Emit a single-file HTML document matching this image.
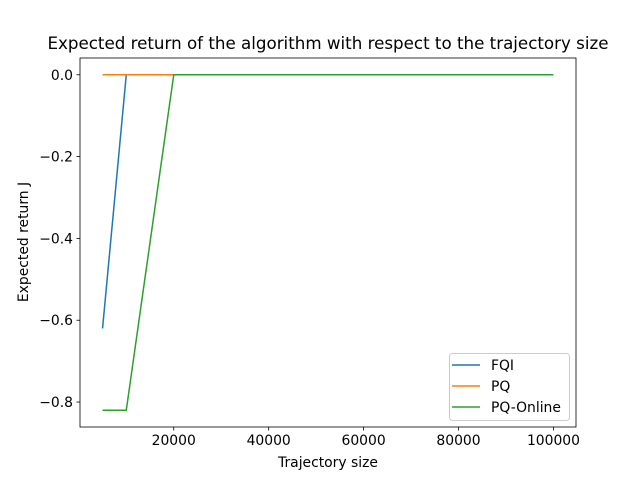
<!DOCTYPE html>
<html><head><meta charset="utf-8">
<style>
body{margin:0;background:#fff;}
svg text{font-family:"DejaVu Sans","Liberation Sans",sans-serif;fill:#000;}
</style></head>
<body>
<svg id="chart" width="640" height="480" xmlns="http://www.w3.org/2000/svg"></svg>
<script>
const xValues=[5000,10000,20000,30000,40000,50000,60000,70000,80000,90000,100000];
const fqiValues=[-0.62,0,0,0,0,0,0,0,0,0,0];
const pqValues=[0,0,0,0,0,0,0,0,0,0,0];
const pqOnlineValues=[-0.82,-0.82,0,0,0,0,0,0,0,0,0];
const xTicks=[20000,40000,60000,80000,100000];
const yTicks=[0,-0.2,-0.4,-0.6,-0.8];
const yTickLabels=["0.0","−0.2","−0.4","−0.6","−0.8"];
const seriesNames=["FQI","PQ","PQ-Online"];
const seriesColors=["#1f77b4","#ff7f0e","#2ca02c"];

const L=80,R=576,T=58,B=427;
const xmin=250,xmax=104750,ymin=-0.861,ymax=0.041;
const sx=v=>L+(v-xmin)/(xmax-xmin)*(R-L);
const sy=v=>B-(v-ymin)/(ymax-ymin)*(B-T);
const svg=document.getElementById('chart');
const NS='http://www.w3.org/2000/svg';
function mk(tag,attrs,parent){const e=document.createElementNS(NS,tag);for(const k in attrs)e.setAttribute(k,attrs[k]);(parent||svg).appendChild(e);return e;}

const t=mk('text',{x:328,y:49,'text-anchor':'middle','font-size':16.7});
t.textContent='Expected return of the algorithm with respect to the trajectory size';



xTicks.forEach(v=>{
  const x=sx(v);
  const tk=mk('line',{x1:x,x2:x,y1:B,y2:B+3.5,stroke:'#000','stroke-width':0.8});
  
  
  const lb=mk('text',{x:x,y:B+18,'text-anchor':'middle','font-size':13.9});
  lb.textContent=String(v);
  
  
});
yTicks.forEach((v,i)=>{
  const y=sy(v);
  const tk=mk('line',{x1:L-3.5,x2:L,y1:y,y2:y,stroke:'#000','stroke-width':0.8});
  
  
  const lb=mk('text',{x:L-7,y:y+5,'text-anchor':'end','font-size':13.9});
  lb.textContent=yTickLabels[i];
  
  
});
const xt=mk('text',{x:328,y:467,'text-anchor':'middle','font-size':13.9});
xt.textContent='Trajectory size';


const yt=mk('text',{x:28,y:242,'text-anchor':'middle','font-size':13.9,transform:'rotate(-90 28 242)'});
yt.textContent='Expected return J';



const allSeries=[fqiValues,pqValues,pqOnlineValues];
allSeries.forEach((vals,i)=>{
  const pts=xValues.map((x,j)=>sx(x)+','+sy(vals[j])).join(' ');
  const pl=mk('polyline',{points:pts,fill:'none',stroke:seriesColors[i],'stroke-width':1.5});
  
  
});

const frame=mk('rect',{x:L,y:T,width:R-L,height:B-T,fill:'none',stroke:'#000','stroke-width':0.8});



const lg=mk('g',{});


mk('rect',{x:449.5,y:353.5,width:120,height:67,rx:3,fill:'#fff','fill-opacity':0.8,stroke:'#ccc','stroke-width':1},lg);
seriesNames.forEach((n,i)=>{
  const y=365+i*21;
  const ln=mk('line',{x1:452,x2:480,y1:y,y2:y,stroke:seriesColors[i],'stroke-width':1.5},lg);
  
  
  const tx=mk('text',{x:491,y:y+5,'font-size':13.9},lg);
  tx.textContent=n;
  
  
});
</script>
</body></html>
